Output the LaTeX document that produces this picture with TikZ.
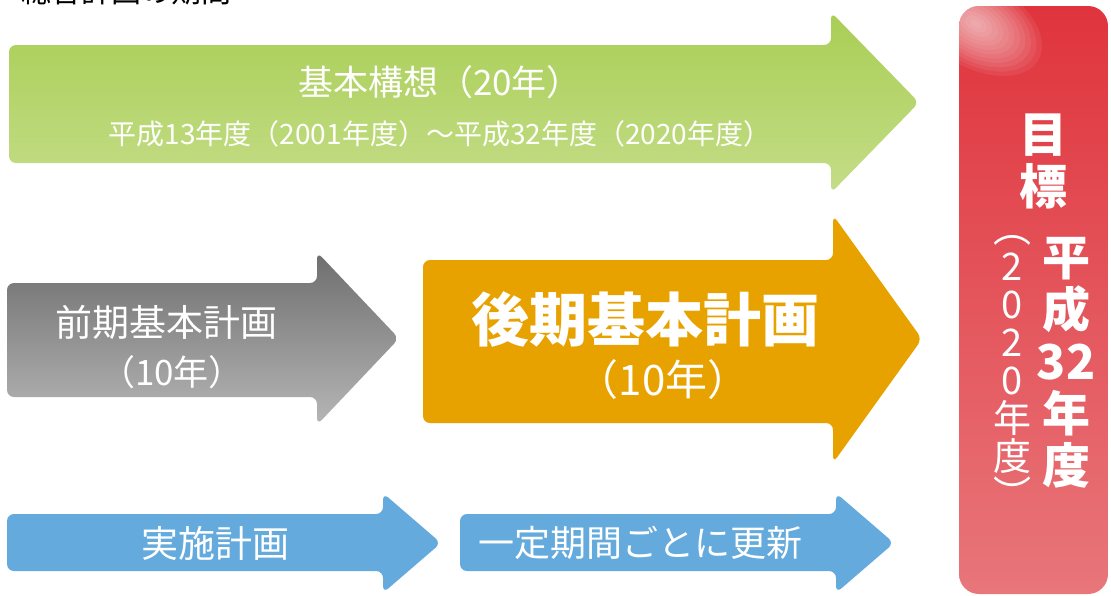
\documentclass[tikz,border=0pt]{standalone}
\usepackage{fontspec}
\newfontfamily\jp{Noto Sans CJK JP}
\definecolor{greenT}{HTML}{A9CE55}
\definecolor{greenB}{HTML}{C4DD88}
\definecolor{grayT}{HTML}{6E6E6E}
\definecolor{grayB}{HTML}{B6B6B6}
\definecolor{orangeA}{HTML}{E8A200}
\definecolor{blueA}{HTML}{64AADC}
\definecolor{redT}{HTML}{E0343D}
\definecolor{redB}{HTML}{E8767A}
\tikzset{
  lbl/.style={text=white, inner sep=0pt, font=\jp},
  fat/.style={rounded corners=7pt},
  greenfill/.style={fat, top color=greenT, bottom color=greenB},
  grayfill/.style={fat, top color=grayT, bottom color=grayB},
  orangefill/.style={fat, fill=orangeA},
  bluefill/.style={fat, fill=blueA},
}
% #1 style, #2 left x, #3 body top, #4 body bottom, #5 shoulder x, #6 head top, #7 head bottom, #8 tip x
\newcommand{\fatarrow}[8]{\path[#1] (#2,#3) -- (#5,#3) -- (#5,#6) -- (#8,{(#6+#7)/2}) -- (#5,#7) -- (#5,#4) -- (#2,#4) -- cycle;}
\begin{document}
\begin{tikzpicture}[x=1pt,y=-1pt]
\useasboundingbox (0,0) rectangle (1111,595);
\clip (0,0) rectangle (1111,595);

% title (mostly cut off)
\node[inner sep=0pt, font=\jp\fontsize{30}{34}\selectfont, text=black] (title) at (126,-9) {総合計画の期間};

% arrows
\fatarrow{greenfill}{9}{45}{163}{831}{12}{193}{919}
\fatarrow{grayfill}{7}{283}{397}{317}{252}{425}{399}
\fatarrow{orangefill}{423}{260}{423}{833}{215}{463}{922}
\fatarrow{bluefill}{7}{514}{571}{383}{493}{593}{441}
\fatarrow{bluefill}{460}{514}{571}{836}{493}{593}{894}

% red target box
\begin{scope}
\path[clip, rounded corners=20pt] (959,6) rectangle (1108,594);
\shade[top color=redT, bottom color=redB] (959,6) rectangle (1108,594);
\foreach \k in {1,...,12}{
  \fill[white, opacity=0.07, rotate around={-30:(976,24)}] (976,24) ellipse ({6*\k} and {3.6*\k});
}
\end{scope}

% texts
\node[lbl, font=\jp\fontsize{35}{40}\selectfont] (gtitle) at (440,82) {基本構想（20年）};
\node[lbl, font=\jp\fontsize{28}{32}\selectfont] (gsub) at (440,134) {平成13年度（2001年度）～平成32年度（2020年度）};
\node[lbl, font=\jp\fontsize{37}{42}\selectfont] (gray1) at (166,322) {前期基本計画};
\node[lbl, font=\jp\fontsize{35}{40}\selectfont] (gray2) at (172,372) {（10年）};
\node[lbl, font=\jp\bfseries\fontsize{58}{64}\selectfont] (or1) at (645,319) {後期基本計画};
\node[lbl, font=\jp\fontsize{42}{48}\selectfont] (or2) at (663,380) {（10年）};
\node[lbl, font=\jp\fontsize{37}{42}\selectfont] (b1) at (215,543) {実施計画};
\node[lbl, font=\jp\fontsize{36}{42}\selectfont] (b2) at (640,543) {一定期間ごとに更新};

\node[lbl, align=center, font=\jp\bfseries\fontsize{48}{52}\selectfont] (goal) at (1043,161) {目\\標};
\node[lbl, align=center, font=\jp\bfseries\fontsize{48}{52}\selectfont] (year) at (1066,363) {平\\成\\32\\年\\度};
\node[lbl, align=center, font=\jp\fontsize{38}{38}\selectfont] (yearp) at (1012,372) {︵\\2\\0\\2\\0\\年\\度\\︶};
\end{tikzpicture}
\end{document}
